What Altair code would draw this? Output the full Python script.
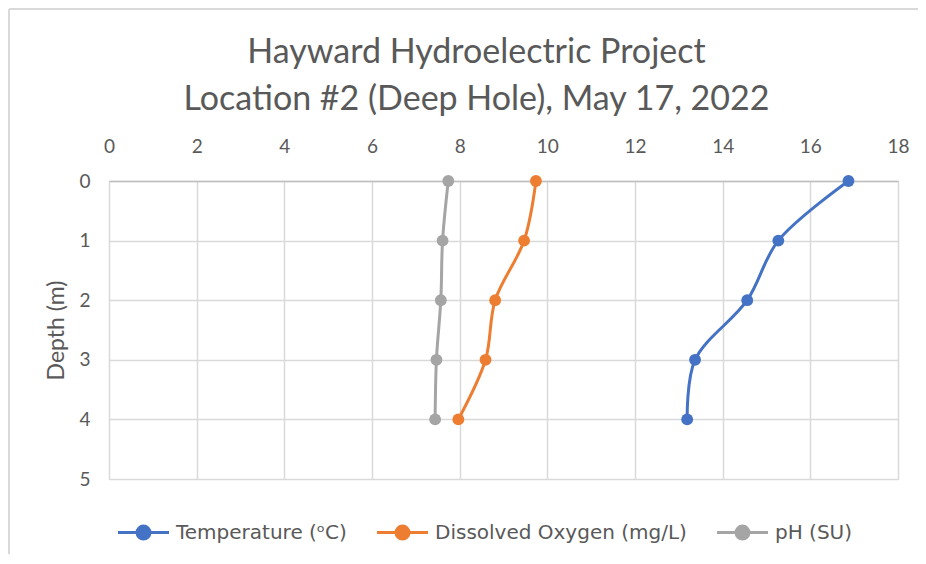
import altair as alt
import pandas as pd

depths = [0, 1, 2, 3, 4]
temperature = [16.87, 15.27, 14.56, 13.37, 13.19]
dissolved_oxygen = [9.74, 9.47, 8.81, 8.59, 7.97]
ph = [7.74, 7.61, 7.57, 7.47, 7.44]

series_names = ["Temperature (ᵒC)", "Dissolved Oxygen (mg/L)", "pH (SU)"]
series_colors = ["#4472C4", "#ED7D31", "#A5A5A5"]

rows = []
for name, vals in zip(series_names, [temperature, dissolved_oxygen, ph]):
    for d, v in zip(depths, vals):
        rows.append({"series": name, "depth": d, "value": v})
df = pd.DataFrame(rows)

FONT = "Lato"
GREY = "#595959"

color = alt.Color(
    "series:N",
    scale=alt.Scale(domain=series_names, range=series_colors),
    legend=alt.Legend(
        title=None,
        orient="none",
        legendX=16,
        legendY=333,
        direction="horizontal",
        symbolType="M-1.5,0L1.5,0M0.38,0A0.38,0.38,0,1,1,-0.38,0A0.38,0.38,0,1,1,0.38,0Z",
        symbolSize=1156,
        symbolStrokeWidth=3,
        labelFont="DejaVu Sans",
        labelFontSize=20,
        labelColor=GREY,
        labelLimit=0,
        columnPadding=24,
        labelOffset=14,
    ),
)

x = alt.X(
    "value:Q",
    scale=alt.Scale(domain=[0, 18], nice=False),
    axis=alt.Axis(
        orient="top",
        values=list(range(0, 19, 2)),
        title=None,
        labelFont=FONT,
        labelFontSize=19,
        labelColor=GREY,
        labelFlush=False,
        tickSize=0,
        labelPadding=25,
        domainColor="#BFBFBF",
        domainWidth=1.5,
        gridColor="#D9D9D9",
        gridWidth=1.5,
    ),
)
y = alt.Y(
    "depth:Q",
    scale=alt.Scale(domain=[0, 5], reverse=True, nice=False),
    axis=alt.Axis(
        values=[0, 1, 2, 3, 4, 5],
        format="d",
        title="Depth (m)",
        titleFont=FONT,
        titleFontSize=23,
        titleFontWeight="normal",
        titleColor=GREY,
        titlePadding=10,
        labelFont=FONT,
        labelFontSize=19,
        labelColor=GREY,
        labelFlush=False,
        tickSize=0,
        labelPadding=19,
        domain=False,
        gridColor="#D9D9D9",
        gridWidth=1.5,
    ),
)

base = alt.Chart(df)
lines = base.mark_line(interpolate="catmull-rom", strokeWidth=3).encode(
    x=x, y=y, color=color, order="depth:Q"
)
points = base.mark_circle(size=140, opacity=1).encode(
    x="value:Q",
    y="depth:Q",
    color=alt.Color(
        "series:N",
        scale=alt.Scale(domain=series_names, range=series_colors),
        legend=None,
    ),
)
one = pd.DataFrame({"a": [0]})
border_top = alt.Chart(one).mark_rule(color="#D9D9D9", strokeWidth=2).encode(
    x=alt.value(-100), x2=alt.value(820), y=alt.value(-172)
)
border_left = alt.Chart(one).mark_rule(color="#D9D9D9", strokeWidth=2).encode(
    x=alt.value(-100), y=alt.value(-172), y2=alt.value(380)
)

chart = alt.layer(border_top, border_left, lines, points).properties(
    width=789,
    height=298,
    padding={"left": 101, "top": 173, "right": 20, "bottom": 75},
    autosize=alt.AutoSizeParams(type="none"),
    title=alt.Title(
        ["Hayward Hydroelectric Project", "Location #2 (Deep Hole), May 17, 2022"],
        font=FONT,
        fontSize=34,
        fontWeight="normal",
        color=GREY,
        anchor="middle",
        lineHeight=47,
        offset=0,
        dy=109,
        dx=-27,
    ),
).configure_view(stroke=None).configure(background="white")

chart.save("out.html", embed_options={"renderer": "svg", "actions": False})
